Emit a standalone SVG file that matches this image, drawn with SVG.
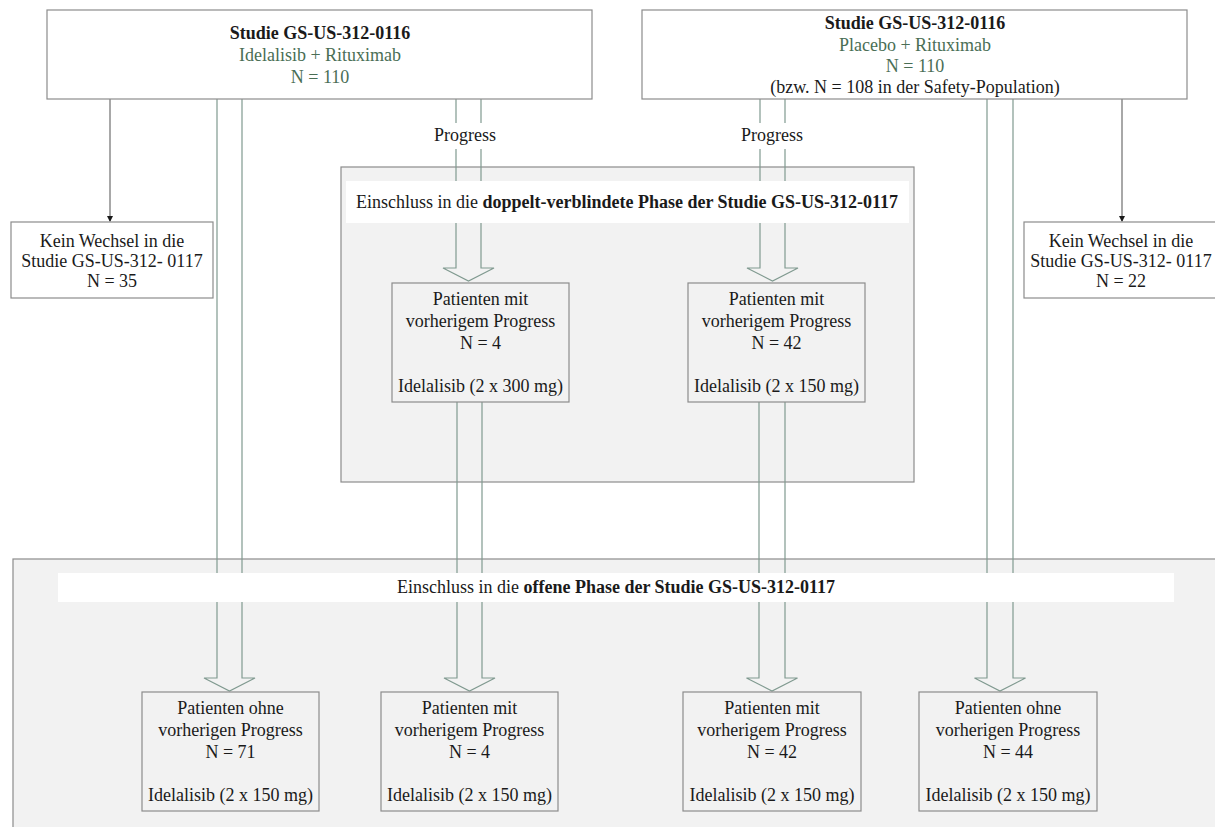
<svg xmlns="http://www.w3.org/2000/svg" width="1215" height="827" viewBox="0 0 1215 827">
<style>
text{font-family:"Liberation Serif","Times New Roman",serif;font-size:18px;fill:#1a1a1a;text-anchor:middle}
.b{font-weight:bold}
.g{fill:#4a6e55}
.box{fill:#ffffff;stroke:#8c8c8c;stroke-width:1.2}
.gbox{fill:#f2f2f2;stroke:#8c8c8c;stroke-width:1.2}
.wbox{fill:#f2f2f2;stroke:#8c8c8c;stroke-width:1.2}
.band{fill:#ffffff;stroke:none}
.ln{fill:none;stroke:#809a90;stroke-width:1.2}
.sl{fill:none;stroke:#6e6e6e;stroke-width:1.2}
</style>
<defs>
<marker id="ah" markerWidth="6" markerHeight="6" refX="5" refY="3" orient="auto" markerUnits="userSpaceOnUse">
<path d="M0,0 L6,3 L0,6 Z" fill="#1a1a1a"/>
</marker>
</defs>
<rect width="1215" height="827" fill="#ffffff"/>
<g id="phase-offen-bg"><rect class="gbox" x="13" y="559" width="1210" height="280"/></g>
<g id="phase-doppelblind-bg"><rect class="gbox" x="341" y="167" width="573" height="315"/></g>
<g id="connectors">
<line class="sl" x1="110" y1="99" x2="110" y2="221" marker-end="url(#ah)"/>
<line class="sl" x1="1122" y1="99" x2="1122" y2="221" marker-end="url(#ah)"/>
<path class="ln" d="M217,99 V678 H204 L229.5,691 L255,678 H242 V99"/>
<path class="ln" d="M456,99 V268 H443 L468.5,281 L494,268 H481 V99"/>
<path class="ln" d="M760,99 V268 H747 L772.5,281 L798,268 H785 V99"/>
<path class="ln" d="M987,99 V678 H974.5 L1000,691 L1025.5,678 H1013 V99"/>
<path class="ln" d="M457,402 V678 H444 L469.5,691 L495,678 H482 V402"/>
<path class="ln" d="M759,402 V678 H746.5 L772,691 L797.5,678 H785 V402"/>
<rect class="band" x="433" y="123" width="72" height="26"/>
<rect class="band" x="737" y="123" width="72" height="26"/>
<text x="465" y="141">Progress</text>
<text x="772" y="141">Progress</text>
</g>
<g id="band-doppelblind">
<rect class="band" x="346" y="181" width="563" height="42"/>
<text x="627" y="208">Einschluss in die <tspan class="b">doppelt-verblindete Phase der Studie GS-US-312-0117</tspan></text>
</g>
<g id="band-offen">
<rect class="band" x="58" y="573" width="1116" height="29"/>
<text x="616" y="593">Einschluss in die <tspan class="b">offene Phase der Studie GS-US-312-0117</tspan></text>
</g>
<g id="studie-ir">
<rect class="box" x="47" y="10" width="545" height="89"/>
<text class="b" x="320" y="39">Studie GS-US-312-0116</text>
<text class="g" x="320" y="61">Idelalisib + Rituximab</text>
<text class="g" x="320" y="83">N = 110</text>
</g>
<g id="studie-pr">
<rect class="box" x="642" y="10" width="545" height="89"/>
<text class="b" x="915" y="29">Studie GS-US-312-0116</text>
<text class="g" x="915" y="51">Placebo + Rituximab</text>
<text class="g" x="915" y="72">N = 110</text>
<text x="915" y="93">(bzw. N = 108 in der Safety-Population)</text>
</g>
<g id="kein-wechsel-links">
<rect class="box" x="11" y="222" width="202" height="76"/>
<text x="112" y="247">Kein Wechsel in die</text>
<text x="112" y="267">Studie GS-US-312- 0117</text>
<text x="112" y="287">N = 35</text>
</g>
<g id="kein-wechsel-rechts">
<rect class="box" x="1024" y="222" width="196" height="76"/>
<text x="1121" y="247">Kein Wechsel in die</text>
<text x="1121" y="267">Studie GS-US-312- 0117</text>
<text x="1121" y="287">N = 22</text>
</g>
<g id="db-progress-300">
<rect class="wbox" x="392" y="283" width="177" height="119"/>
<text x="480.5" y="305">Patienten mit</text>
<text x="480.5" y="327">vorherigem Progress</text>
<text x="480.5" y="349">N = 4</text>
<text x="480.5" y="392">Idelalisib (2 x 300 mg)</text>
</g>
<g id="db-progress-150">
<rect class="wbox" x="688" y="283" width="177" height="119"/>
<text x="776.5" y="305">Patienten mit</text>
<text x="776.5" y="327">vorherigem Progress</text>
<text x="776.5" y="349">N = 42</text>
<text x="776.5" y="392">Idelalisib (2 x 150 mg)</text>
</g>
<g id="ol-ohne-71">
<rect class="wbox" x="142" y="692" width="177" height="119"/>
<text x="230.5" y="714">Patienten ohne</text>
<text x="230.5" y="736">vorherigen Progress</text>
<text x="230.5" y="758">N = 71</text>
<text x="230.5" y="801">Idelalisib (2 x 150 mg)</text>
</g>
<g id="ol-mit-4">
<rect class="wbox" x="381" y="692" width="177" height="119"/>
<text x="469.5" y="714">Patienten mit</text>
<text x="469.5" y="736">vorherigem Progress</text>
<text x="469.5" y="758">N = 4</text>
<text x="469.5" y="801">Idelalisib (2 x 150 mg)</text>
</g>
<g id="ol-mit-42">
<rect class="wbox" x="683" y="692" width="178" height="119"/>
<text x="772" y="714">Patienten mit</text>
<text x="772" y="736">vorherigem Progress</text>
<text x="772" y="758">N = 42</text>
<text x="772" y="801">Idelalisib (2 x 150 mg)</text>
</g>
<g id="ol-ohne-44">
<rect class="wbox" x="919" y="692" width="178" height="119"/>
<text x="1008" y="714">Patienten ohne</text>
<text x="1008" y="736">vorherigen Progress</text>
<text x="1008" y="758">N = 44</text>
<text x="1008" y="801">Idelalisib (2 x 150 mg)</text>
</g>
</svg>
